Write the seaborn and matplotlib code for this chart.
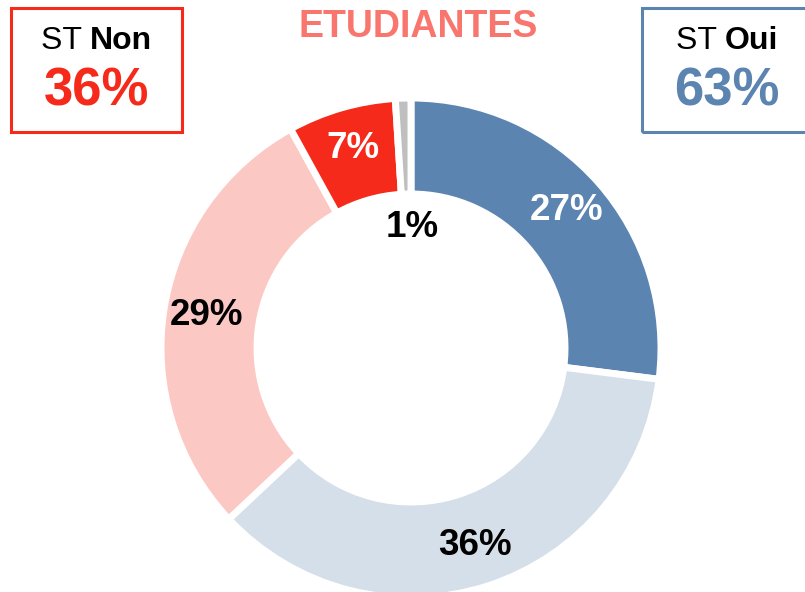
import numpy as np
import seaborn as sns
import matplotlib.pyplot as plt
from matplotlib.patches import Rectangle

# Data
segments = ['Oui tout à fait', 'Oui plutôt', 'Non plutôt pas', 'Non pas du tout', 'NSP']
shares = [27, 36, 29, 7, 1]
colors = ['#5B84B0', '#D5DFE9', '#FCC8C4', '#F52A1A', '#BFBFBF']
label_colors = ['white', 'black', 'black', 'white', 'black']
st_labels = ['Non', 'Oui']
st_values = [36, 63]
st_colors = ['#F52A1A', '#5B84B0']
title = 'ETUDIANTES'

sns.set_theme(style='white')
plt.rcParams['font.family'] = ['Liberation Sans', 'DejaVu Sans']

fig = plt.figure(figsize=(8.05, 5.92), dpi=100)
ax = fig.add_axes([0, 0, 1, 1])

center = (411, 244)
wedges, texts, autotexts = ax.pie(
    shares, colors=colors, startangle=90, counterclock=False,
    center=center, radius=250,
    wedgeprops=dict(width=96, edgecolor='white', linewidth=5),
    autopct='%d%%', pctdistance=0.83,
    textprops=dict(fontsize=26.5, fontweight='bold'))

for w, t, c in zip(wedges, autotexts, label_colors):
    t.set_color(c)

# the tiny slice gets its label inside the hole
th = np.deg2rad((wedges[-1].theta1 + wedges[-1].theta2) / 2)
autotexts[-1].set_position((center[0] + 5 + 121 * np.cos(th), center[1] + 121 * np.sin(th)))

ax.set_xlim(0, 805)
ax.set_ylim(0, 592)
ax.set_aspect('equal')
ax.axis('off')

ax.text(418, 565, title, ha='center', va='center', fontsize=27,
        fontweight='bold', color='#F8766D')

# "ST" boxes: (left, width, text centre, split offset)
boxes = [(11, 171, 97, -7), (642, 180, 727, -2)]
for (x0, w, xc, dx), lab, val, col in zip(boxes, st_labels, st_values, st_colors):
    ax.add_patch(Rectangle((x0, 592 - 132), w, 124, fill=False,
                           edgecolor=col, linewidth=2.2, clip_on=True))
    ax.text(xc + dx, 551, 'ST ', ha='right', va='center', fontsize=23, color='black')
    ax.text(xc + dx, 551, lab, ha='left', va='center', fontsize=23,
            fontweight='bold', color='black')
    ax.text(xc, 500, f'{val}%', ha='center', va='center', fontsize=38,
            fontweight='bold', color=col)

fig.savefig('out.png', dpi=100)
